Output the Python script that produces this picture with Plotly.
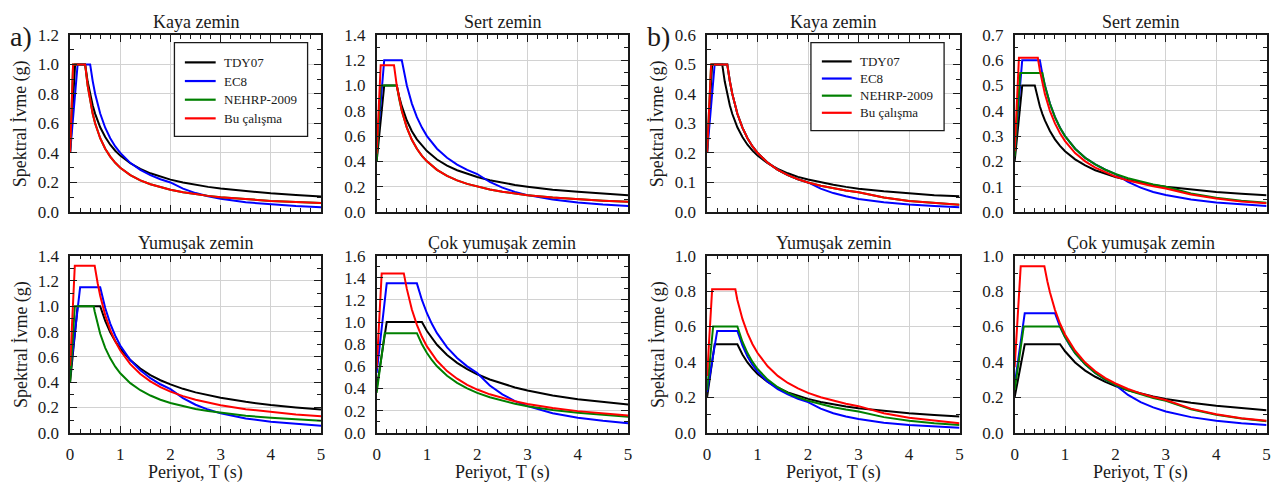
import plotly.graph_objects as go

# ---------------------------------------------------------------
# Design acceleration spectra: TDY07, EC8, NEHRP-2009 and this study
# Values are spectral acceleration Sa (g) at the listed periods T (s)
# ---------------------------------------------------------------
SERIES = ["TDY07", "EC8", "NEHRP-2009", "Bu çalışma"]
COLORS = ["#000000", "#0000ff", "#008000", "#ff0000"]
SOIL_TITLES = ["Kaya zemin", "Sert zemin", "Yumuşak zemin", "Çok yumuşak zemin"]
X_TICKS = [0, 1, 2, 3, 4, 5]
X_TITLE = "Periyot, T (s)"
Y_TITLE = "Spektral İvme (g)"

# ---- a) Kaya zemin
T_A1 = [0, 0.06, 0.1, 0.15, 0.3, 0.35, 0.4, 0.45, 0.5, 0.6, 0.7, 0.8, 0.9, 1.0,
        1.2, 1.4, 1.6, 1.8, 2.0, 2.25, 2.5, 2.75, 3.0, 3.5, 4.0, 4.5, 5.0]
A1_TDY07 = [0.4, 0.76, 1.0, 1.0, 1.0, 0.884, 0.795, 0.723, 0.665, 0.574, 0.508, 0.456, 0.415,
            0.382, 0.330, 0.292, 0.262, 0.239, 0.219, 0.200, 0.183, 0.170, 0.159, 0.140, 0.126,
            0.115, 0.105]
A1_EC8 = [0.4, 0.64, 0.8, 1.0, 1.0, 1.0, 1.0, 0.889, 0.8, 0.667, 0.571, 0.5, 0.444,
          0.4, 0.333, 0.286, 0.25, 0.222, 0.2, 0.158, 0.128, 0.106, 0.089, 0.065, 0.05,
          0.040, 0.032]
A1_NEHRP = [0.4, 1.0, 1.0, 1.0, 1.0, 0.857, 0.75, 0.667, 0.6, 0.5, 0.429, 0.375, 0.333,
            0.3, 0.25, 0.214, 0.188, 0.167, 0.15, 0.133, 0.12, 0.109, 0.1, 0.086, 0.075,
            0.067, 0.06]
A1_BU = [0.4, 1.0, 1.0, 1.0, 1.0, 0.857, 0.75, 0.667, 0.6, 0.5, 0.429, 0.375, 0.333,
         0.3, 0.25, 0.214, 0.188, 0.167, 0.15, 0.133, 0.12, 0.109, 0.1, 0.086, 0.075,
         0.067, 0.06]

# ---- a) Sert zemin
T_A2 = [0, 0.065, 0.08, 0.15, 0.345, 0.4, 0.45, 0.5, 0.6, 0.7, 0.8, 0.9, 1.0,
        1.2, 1.4, 1.6, 1.8, 2.0, 2.25, 2.5, 2.75, 3.0, 3.5, 4.0, 4.5, 5.0]
A2_TDY07 = [0.4, 0.66, 0.72, 1.0, 1.0, 1.0, 0.910, 0.837, 0.723, 0.639, 0.574, 0.523, 0.481,
            0.415, 0.367, 0.330, 0.300, 0.276, 0.251, 0.231, 0.214, 0.200, 0.176, 0.159,
            0.144, 0.133]
A2_EC8 = [0.48, 0.792, 0.864, 1.2, 1.2, 1.2, 1.2, 1.2, 1.0, 0.857, 0.75, 0.667, 0.6,
          0.5, 0.429, 0.375, 0.333, 0.3, 0.237, 0.192, 0.159, 0.133, 0.098, 0.075, 0.059,
          0.048]
A2_NEHRP = [0.4, 0.888, 1.0, 1.0, 1.0, 1.0, 0.889, 0.8, 0.667, 0.571, 0.5, 0.444, 0.4,
            0.333, 0.286, 0.25, 0.222, 0.2, 0.178, 0.16, 0.145, 0.133, 0.114, 0.1, 0.089,
            0.08]
A2_BU = [0.46, 1.16, 1.16, 1.16, 1.16, 1.0, 0.889, 0.8, 0.667, 0.571, 0.5, 0.444, 0.4,
         0.333, 0.286, 0.25, 0.222, 0.2, 0.178, 0.16, 0.145, 0.133, 0.114, 0.1, 0.089,
         0.08]

# ---- a) Yumuşak zemin
T_A3 = [0, 0.08, 0.094, 0.15, 0.2, 0.47, 0.49, 0.55, 0.6, 0.7, 0.8, 0.9, 1.0,
        1.2, 1.4, 1.6, 1.8, 2.0, 2.25, 2.5, 2.75, 3.0, 3.5, 4.0, 4.5, 5.0]
A3_TDY07 = [0.4, 0.72, 0.776, 1.0, 1.0, 1.0, 1.0, 1.0, 1.0, 0.884, 0.795, 0.723, 0.665,
            0.574, 0.508, 0.456, 0.415, 0.382, 0.347, 0.319, 0.296, 0.276, 0.244, 0.219,
            0.200, 0.183]
A3_EC8 = [0.46, 0.736, 0.784, 0.978, 1.15, 1.15, 1.15, 1.15, 1.15, 0.986, 0.863, 0.767, 0.69,
          0.575, 0.493, 0.431, 0.383, 0.345, 0.273, 0.221, 0.183, 0.153, 0.113, 0.086,
          0.068, 0.055]
A3_NEHRP = [0.4, 0.911, 1.0, 1.0, 1.0, 1.0, 0.959, 0.855, 0.783, 0.671, 0.588, 0.522, 0.47,
            0.392, 0.336, 0.294, 0.261, 0.235, 0.209, 0.188, 0.171, 0.157, 0.134, 0.118,
            0.104, 0.094]
A3_BU = [0.53, 1.32, 1.32, 1.32, 1.32, 1.32, 1.32, 1.182, 1.083, 0.929, 0.813, 0.722, 0.65,
         0.542, 0.464, 0.406, 0.361, 0.325, 0.289, 0.26, 0.236, 0.217, 0.186, 0.163, 0.144,
         0.13]

# ---- a) Çok yumuşak zemin
T_A4 = [0, 0.1, 0.16, 0.2, 0.54, 0.6, 0.7, 0.8, 0.9, 1.0, 1.1, 1.2, 1.4, 1.6, 1.8,
        2.0, 2.25, 2.5, 2.75, 3.0, 3.5, 4.0, 4.5, 5.0]
A4_TDY07 = [0.4, 0.7, 0.88, 1.0, 1.0, 1.0, 1.0, 1.0, 1.0, 0.919, 0.852, 0.795, 0.702, 0.631,
            0.574, 0.528, 0.481, 0.442, 0.409, 0.382, 0.337, 0.303, 0.276, 0.254]
A4_EC8 = [0.54, 0.945, 1.188, 1.35, 1.35, 1.35, 1.35, 1.35, 1.2, 1.08, 0.982, 0.9, 0.771, 0.675,
          0.6, 0.54, 0.427, 0.346, 0.286, 0.24, 0.176, 0.135, 0.107, 0.086]
A4_NEHRP = [0.36, 0.698, 0.9, 0.9, 0.9, 0.9, 0.9, 0.9, 0.8, 0.72, 0.655, 0.6, 0.514, 0.45,
            0.4, 0.36, 0.32, 0.288, 0.262, 0.24, 0.206, 0.18, 0.16, 0.144]
A4_BU = [0.58, 1.44, 1.44, 1.44, 1.44, 1.3, 1.114, 0.975, 0.867, 0.78, 0.709, 0.65, 0.557, 0.488,
         0.433, 0.39, 0.347, 0.312, 0.284, 0.26, 0.223, 0.195, 0.173, 0.156]

# ---- b) Kaya zemin
T_B1 = [0, 0.08, 0.1, 0.15, 0.3, 0.35, 0.4, 0.45, 0.5, 0.6, 0.7, 0.8, 0.9, 1.0,
        1.2, 1.4, 1.6, 1.8, 2.0, 2.25, 2.5, 2.75, 3.0, 3.5, 4.0, 4.5, 5.0]
B1_TDY07 = [0.2, 0.44, 0.5, 0.5, 0.5, 0.442, 0.397, 0.362, 0.332, 0.287, 0.254, 0.228, 0.208,
            0.191, 0.165, 0.146, 0.131, 0.119, 0.110, 0.100, 0.092, 0.085, 0.079, 0.070,
            0.063, 0.057, 0.053]
B1_EC8 = [0.2, 0.36, 0.4, 0.5, 0.5, 0.5, 0.5, 0.444, 0.4, 0.333, 0.286, 0.25, 0.222,
          0.2, 0.167, 0.143, 0.125, 0.111, 0.1, 0.079, 0.064, 0.053, 0.044, 0.033, 0.025,
          0.020, 0.016]
B1_NEHRP = [0.2, 0.5, 0.5, 0.5, 0.5, 0.5, 0.5, 0.444, 0.4, 0.333, 0.286, 0.25, 0.222,
            0.2, 0.167, 0.143, 0.125, 0.111, 0.1, 0.089, 0.08, 0.073, 0.067, 0.049, 0.0375,
            0.030, 0.024]
B1_BU = [0.2, 0.5, 0.5, 0.5, 0.5, 0.5, 0.5, 0.444, 0.4, 0.333, 0.286, 0.25, 0.222,
         0.2, 0.167, 0.143, 0.125, 0.111, 0.1, 0.089, 0.08, 0.073, 0.067, 0.049, 0.0375,
         0.030, 0.024]

# ---- b) Sert zemin
T_B2 = [0, 0.085, 0.11, 0.15, 0.4, 0.46, 0.5, 0.55, 0.6, 0.7, 0.8, 0.9, 1.0,
        1.2, 1.4, 1.6, 1.8, 2.0, 2.25, 2.5, 2.75, 3.0, 3.5, 4.0, 4.5, 5.0]
B2_TDY07 = [0.2, 0.37, 0.42, 0.5, 0.5, 0.447, 0.418, 0.388, 0.362, 0.320, 0.287, 0.261, 0.240,
            0.208, 0.184, 0.165, 0.150, 0.138, 0.126, 0.115, 0.107, 0.100, 0.088, 0.079,
            0.072, 0.066]
B2_EC8 = [0.24, 0.444, 0.504, 0.6, 0.6, 0.6, 0.6, 0.545, 0.5, 0.429, 0.375, 0.333, 0.3,
          0.25, 0.214, 0.188, 0.167, 0.15, 0.119, 0.096, 0.079, 0.067, 0.049, 0.0375, 0.030,
          0.024]
B2_NEHRP = [0.22, 0.475, 0.55, 0.55, 0.55, 0.55, 0.55, 0.55, 0.5, 0.429, 0.375, 0.333, 0.3,
            0.25, 0.214, 0.188, 0.167, 0.15, 0.133, 0.12, 0.109, 0.1, 0.073, 0.056, 0.044,
            0.036]
B2_BU = [0.24, 0.61, 0.61, 0.61, 0.61, 0.61, 0.56, 0.509, 0.467, 0.4, 0.35, 0.311, 0.28,
         0.233, 0.2, 0.175, 0.156, 0.14, 0.124, 0.112, 0.102, 0.093, 0.069, 0.053, 0.041,
         0.034]

# ---- b) Yumuşak zemin
T_B3 = [0, 0.1, 0.12, 0.15, 0.2, 0.56, 0.6, 0.7, 0.8, 0.9, 1.0, 1.2, 1.4, 1.6, 1.8,
        2.0, 2.25, 2.5, 2.75, 3.0, 3.5, 4.0, 4.5, 5.0]
B3_TDY07 = [0.2, 0.4, 0.44, 0.5, 0.5, 0.5, 0.5, 0.442, 0.397, 0.362, 0.332, 0.287, 0.254, 0.228,
            0.208, 0.191, 0.174, 0.160, 0.148, 0.138, 0.122, 0.110, 0.100, 0.092]
B3_EC8 = [0.23, 0.403, 0.437, 0.489, 0.575, 0.575, 0.575, 0.493, 0.431, 0.383, 0.345, 0.288,
          0.246, 0.216, 0.192, 0.173, 0.136, 0.110, 0.091, 0.077, 0.056, 0.043, 0.034, 0.028]
B3_NEHRP = [0.24, 0.54, 0.6, 0.6, 0.6, 0.6, 0.6, 0.514, 0.45, 0.4, 0.36, 0.3, 0.257, 0.225,
            0.2, 0.18, 0.16, 0.144, 0.131, 0.12, 0.088, 0.068, 0.053, 0.043]
B3_BU = [0.32, 0.81, 0.81, 0.81, 0.81, 0.81, 0.75, 0.643, 0.563, 0.5, 0.45, 0.375, 0.321, 0.281,
         0.25, 0.225, 0.2, 0.18, 0.164, 0.15, 0.110, 0.084, 0.067, 0.054]

# ---- b) Çok yumuşak zemin
T_B4 = [0, 0.12, 0.18, 0.2, 0.59, 0.65, 0.7, 0.8, 0.9, 1.0, 1.1, 1.2, 1.4, 1.6, 1.8,
        2.0, 2.25, 2.5, 2.75, 3.0, 3.5, 4.0, 4.5, 5.0]
B4_TDY07 = [0.2, 0.38, 0.47, 0.5, 0.5, 0.5, 0.5, 0.5, 0.5, 0.460, 0.426, 0.397, 0.351, 0.316,
            0.287, 0.264, 0.240, 0.221, 0.205, 0.191, 0.169, 0.152, 0.138, 0.127]
B4_EC8 = [0.27, 0.513, 0.635, 0.675, 0.675, 0.675, 0.675, 0.675, 0.6, 0.54, 0.491, 0.45, 0.386,
          0.338, 0.3, 0.27, 0.213, 0.173, 0.143, 0.12, 0.088, 0.068, 0.053, 0.043]
B4_NEHRP = [0.24, 0.48, 0.6, 0.6, 0.6, 0.6, 0.6, 0.6, 0.6, 0.54, 0.491, 0.45, 0.386, 0.338,
            0.3, 0.27, 0.24, 0.216, 0.196, 0.18, 0.132, 0.101, 0.08, 0.065]
B4_BU = [0.37, 0.94, 0.94, 0.94, 0.94, 0.854, 0.793, 0.694, 0.617, 0.555, 0.505, 0.463, 0.396,
         0.347, 0.308, 0.278, 0.247, 0.222, 0.202, 0.185, 0.136, 0.104, 0.082, 0.067]

# Axis limits and major tick steps (Sa axis) per panel
Y_MAX = {"A1": 1.2, "A2": 1.4, "A3": 1.4, "A4": 1.6, "B1": 0.6, "B2": 0.7, "B3": 1.0, "B4": 1.0}
Y_STEP = {"A1": 0.2, "A2": 0.2, "A3": 0.2, "A4": 0.2, "B1": 0.1, "B2": 0.1, "B3": 0.2, "B4": 0.2}

PANELS = [
    # key, periods, curves, soil title index, row, column
    ("A1", T_A1, [A1_TDY07, A1_EC8, A1_NEHRP, A1_BU], 0, 0, 0),
    ("A2", T_A2, [A2_TDY07, A2_EC8, A2_NEHRP, A2_BU], 1, 0, 1),
    ("A3", T_A3, [A3_TDY07, A3_EC8, A3_NEHRP, A3_BU], 2, 1, 0),
    ("A4", T_A4, [A4_TDY07, A4_EC8, A4_NEHRP, A4_BU], 3, 1, 1),
    ("B1", T_B1, [B1_TDY07, B1_EC8, B1_NEHRP, B1_BU], 0, 0, 2),
    ("B2", T_B2, [B2_TDY07, B2_EC8, B2_NEHRP, B2_BU], 1, 0, 3),
    ("B3", T_B3, [B3_TDY07, B3_EC8, B3_NEHRP, B3_BU], 2, 1, 2),
    ("B4", T_B4, [B4_TDY07, B4_EC8, B4_NEHRP, B4_BU], 3, 1, 3),
]

W, H = 1282, 498
FONT = "Liberation Serif, Times New Roman, Times, serif"
INK = "#1a1a1a"

# plot-area boxes in pixels (left, right) and (top, bottom)
COL_PX = [(66.5, 319.0), (375.0, 628.0), (707.5, 961.5), (1017.0, 1270.5)]
ROW_PX = [(27.0, 211.0), (256.5, 440.5)]
Y_TITLE_X = {0: 17.0, 2: 658.0}


def px_x(p):
    return p / W


def px_y(p):
    return 1 - p / H


fig = go.Figure()
layout = dict(
    width=W, height=H,
    margin=dict(l=0, r=0, t=0, b=0),
    paper_bgcolor="white", plot_bgcolor="white",
    showlegend=False,
    font=dict(family=FONT, color=INK),
)
annotations = []
shapes = []

for n, (key, periods, curves, ti, row, col) in enumerate(PANELS, start=1):
    xs = "" if n == 1 else str(n)
    for name, color, sa in zip(SERIES, COLORS, curves):
        fig.add_trace(go.Scatter(
            x=periods, y=sa, mode="lines", name=name,
            line=dict(color=color, width=2),
            xaxis="x" + xs, yaxis="y" + xs,
        ))
    (l, r), (t, b) = COL_PX[col], ROW_PX[row]
    common = dict(
        showline=True, linecolor=INK, linewidth=1.5, mirror="ticks",
        ticks="inside", ticklen=7, tickwidth=1.3, tickcolor=INK,
        showgrid=True, gridcolor="#d2d2d2", gridwidth=1.4, zeroline=False,
        tickfont=dict(family=FONT, size=17, color=INK),
    )
    layout["xaxis" + xs] = dict(
        common, domain=[px_x(l), px_x(r)], anchor="y" + xs,
        range=[0, 5], tickvals=X_TICKS, ticktext=[str(v) for v in X_TICKS],
        showticklabels=(row == 1), ticklabelstandoff=5,
        minor=dict(ticks="inside", ticklen=4, tickwidth=1.2, tickcolor=INK,
                   dtick=0.2, showgrid=False),
    )
    step = Y_STEP[key]
    layout["yaxis" + xs] = dict(
        common, domain=[px_y(b), px_y(t)], anchor="x" + xs,
        range=[0, Y_MAX[key]], dtick=step, tick0=0, tickformat=".1f",
        minor=dict(ticks="inside", ticklen=4, tickwidth=1.2, tickcolor=INK,
                   dtick=step / 2, showgrid=False),
        ticklabelstandoff=6,
    )
    # panel (soil class) title
    annotations.append(dict(
        text=SOIL_TITLES[ti], xref="paper", yref="paper",
        x=px_x((l + r) / 2), y=px_y(t - 0.5), xanchor="center", yanchor="bottom",
        showarrow=False, font=dict(family=FONT, size=18, color=INK),
    ))
    # axis titles
    if row == 1:
        annotations.append(dict(
            text=X_TITLE, xref="paper", yref="paper",
            x=px_x((l + r) / 2), y=px_y(b + 41), xanchor="center", yanchor="middle",
            showarrow=False, font=dict(family=FONT, size=18, color=INK),
        ))
    if col in Y_TITLE_X:
        annotations.append(dict(
            text=Y_TITLE, xref="paper", yref="paper", textangle=-90,
            x=px_x(Y_TITLE_X[col]), y=px_y((t + b) / 2), xanchor="center", yanchor="middle",
            showarrow=False, font=dict(family=FONT, size=18, color=INK),
        ))

# panel group labels
for label, xpx in (("a)", 4), ("b)", 645)):
    annotations.append(dict(
        text=label, xref="paper", yref="paper", x=px_x(xpx), y=px_y(10),
        xanchor="left", yanchor="top", showarrow=False,
        font=dict(family=FONT, size=28, color=INK),
    ))

# legend boxes drawn inside the Kaya zemin panels
LEGEND_BOXES = [
    # box (l, t, r, b), line start, line end, text x, first row y, row spacing
    ((171.5, 35.0, 305.5, 132.5), 182.0, 213.0, 219.0, 55.5, 19.4),
    ((812.0, 35.0, 946.0, 126.5), 823.0, 853.0, 859.0, 54.5, 17.8),
]
for (bl, bt, br, bb), x0, x1, xt, y0, dy in LEGEND_BOXES:
    shapes.append(dict(type="rect", xref="paper", yref="paper",
                       x0=px_x(bl), x1=px_x(br), y0=px_y(bb), y1=px_y(bt),
                       line=dict(color=INK, width=1.3), fillcolor="white", layer="above"))
    for i, (name, color) in enumerate(zip(SERIES, COLORS)):
        yy = y0 + i * dy
        shapes.append(dict(type="line", xref="paper", yref="paper",
                           x0=px_x(x0), x1=px_x(x1), y0=px_y(yy), y1=px_y(yy),
                           line=dict(color=color, width=2.2), layer="above"))
        annotations.append(dict(
            text=name, xref="paper", yref="paper", x=px_x(xt), y=px_y(yy),
            xanchor="left", yanchor="middle", showarrow=False,
            font=dict(family=FONT, size=13, color=INK),
        ))

layout["annotations"] = annotations
layout["shapes"] = shapes
fig.update_layout(**layout)
fig.write_html("out.html")
